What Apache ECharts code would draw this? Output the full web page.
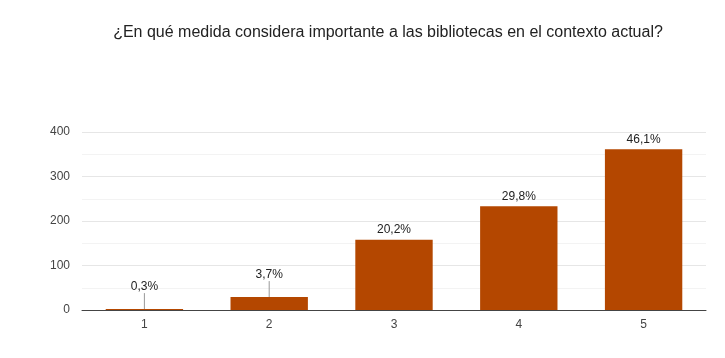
<!DOCTYPE html>
<html><head><meta charset="utf-8">
<script src="https://cdn.jsdelivr.net/npm/echarts@6/dist/echarts.min.js"></script>
<style>html,body{margin:0;padding:0;background:#fff}#c{width:725px;height:358px}</style>
</head><body><div id="c"></div>
<script>
var categories = ['1','2','3','4','5'];
var counts = [2, 29, 158, 233, 361];
var percentLabels = ['0,3%','3,7%','20,2%','29,8%','46,1%'];
var titleText = '¿En qué medida considera importante a las bibliotecas en el contexto actual?';

var barData = counts.map(function(v, i){
  return {value: v, labelLine: {show: i < 2}};
});

var chart = echarts.init(document.getElementById('c'));
chart.setOption({
  animation: false,
  textStyle: {fontFamily: 'Liberation Sans, Arial, sans-serif'},
  title: {text: titleText, left: 383, textAlign: 'center', top: 20,
    textStyle: {fontSize: 16, fontWeight: 'normal', color: '#222'}},
  grid: {left: 82, right: 19, top: 132, bottom: 48},
  xAxis: {type: 'category', data: categories,
    axisLine: {lineStyle: {color: '#444', width: 1}},
    axisTick: {show: false},
    axisLabel: {color: '#444', fontSize: 12, margin: 9}},
  yAxis: {type: 'value', min: 0, max: 400, interval: 100,
    axisLine: {show: false}, axisTick: {show: false},
    axisLabel: {color: '#444', fontSize: 12, margin: 12},
    splitLine: {lineStyle: {color: '#e6e6e6'}},
    minorTick: {show: false, splitNumber: 2},
    minorSplitLine: {show: true, lineStyle: {color: '#f3f3f3'}}},
  series: [{
    type: 'bar', data: barData, barWidth: '62%',
    itemStyle: {color: '#b44700'},
    label: {show: true, position: 'top', distance: 4, color: '#222', fontSize: 12,
      formatter: function(p){ return percentLabels[p.dataIndex]; }},
    labelLine: {show: false, lineStyle: {color: '#999', width: 1}},
    labelLayout: function(p){ return p.dataIndex < 2 ? {dy: -12} : {}; }
  }]
});
</script></body></html>
